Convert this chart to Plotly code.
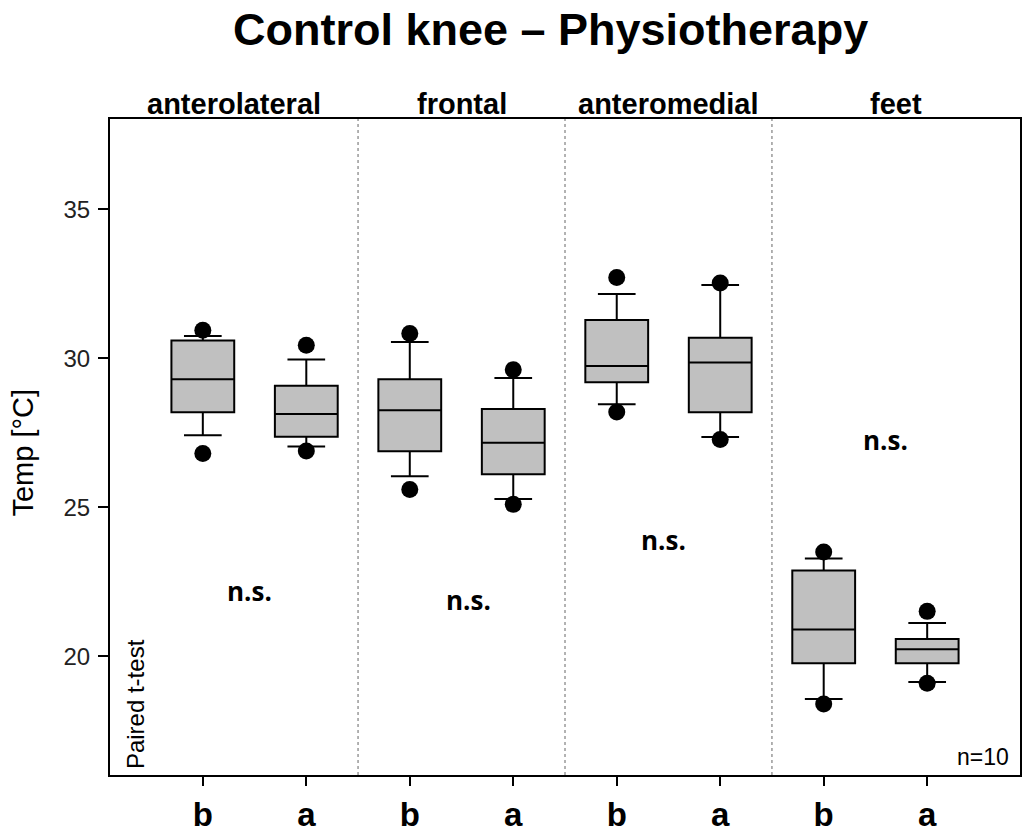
import plotly.graph_objects as go

groups = ["anterolateral", "frontal", "anteromedial", "feet"]
conditions = ["b", "a"]
positions = [1, 2, 3, 4, 5, 6, 7, 8]
tick_labels = ["b", "a", "b", "a", "b", "a", "b", "a"]

p05 = [26.81, 26.89, 25.60, 25.10, 28.20, 27.28, 18.40, 19.10]
p10 = [27.42, 27.04, 26.04, 25.28, 28.46, 27.36, 18.57, 19.14]
q1 = [28.19, 27.37, 26.88, 26.11, 29.20, 28.19, 19.77, 19.77]
median = [29.30, 28.13, 28.26, 27.17, 29.74, 29.86, 20.90, 20.24]
q3 = [30.60, 29.08, 29.30, 28.30, 31.29, 30.69, 22.88, 20.58]
p90 = [30.75, 29.96, 30.55, 29.34, 32.16, 32.46, 23.28, 21.12]
p95 = [30.94, 30.44, 30.83, 29.62, 32.71, 32.53, 23.50, 21.51]

sig_labels = ["n.s.", "n.s.", "n.s.", "n.s."]
sig_x = [1.45, 3.57, 5.45, 7.60]
sig_y = [22.21, 21.88, 23.89, 27.25]
dividers = [2.5, 4.5, 6.5]
panel_edges = [0.103, 2.5, 4.5, 6.5, 8.897]

fig = go.Figure()

fig.add_trace(go.Box(
    x=positions, q1=q1, median=median, q3=q3,
    lowerfence=p10, upperfence=p90,
    width=0.607, whiskerwidth=0.6,
    fillcolor="#c0c0c0", line=dict(color="black", width=2),
    boxpoints=False, showlegend=False, hoverinfo="skip",
))

fig.add_trace(go.Scatter(
    x=positions + positions, y=p05 + p95, mode="markers",
    marker=dict(color="black", size=17, symbol="circle"),
    showlegend=False, hoverinfo="skip",
))

for d in dividers:
    fig.add_shape(type="line", xref="x", yref="paper", x0=d, x1=d, y0=0, y1=1,
                  line=dict(color="#666666", width=1, dash="dot"))

for i, g in enumerate(groups):
    fig.add_annotation(x=(panel_edges[i] + panel_edges[i + 1]) / 2, y=1.0,
                       xref="x", yref="paper", yanchor="bottom", yshift=-3,
                       text="<b>" + g + "</b>", showarrow=False,
                       font=dict(family="Liberation Sans, Arial", size=29, color="black"))

for sx, sy, st in zip(sig_x, sig_y, sig_labels):
    fig.add_annotation(x=sx, y=sy, xref="x", yref="y", text="<b>" + st + "</b>",
                       showarrow=False,
                       font=dict(family="Open Sans", size=26, color="black"))

fig.add_annotation(x=0.4836, y=1.1357, xref="paper", yref="paper",
                   xanchor="center", yanchor="middle",
                   text="<b>Control knee – Physiotherapy</b>", showarrow=False,
                   font=dict(family="Liberation Sans, Arial", size=45, color="black"))

fig.add_annotation(x=-0.096, y=0.491, xref="paper", yref="paper",
                   xanchor="center", yanchor="middle",
                   text="Temp [°C]", textangle=-90, showarrow=False,
                   font=dict(family="Liberation Sans, Arial", size=29, color="black"))

fig.add_annotation(x=0.0274, y=0.108, xref="paper", yref="paper",
                   xanchor="center", yanchor="middle",
                   text="Paired t-test", textangle=-90, showarrow=False,
                   font=dict(family="Liberation Sans, Arial", size=24, color="black"))

fig.add_annotation(x=0.99, y=0.027, xref="paper", yref="paper",
                   xanchor="right", yanchor="middle",
                   text="n=10", showarrow=False,
                   font=dict(family="Liberation Sans, Arial", size=23, color="black"))

fig.update_layout(
    width=1024, height=835,
    margin=dict(l=110, r=2, t=119, b=60),
    paper_bgcolor="white", plot_bgcolor="white",
    xaxis=dict(range=[0.103, 8.897], tickvals=positions,
               ticktext=["<b>" + t + "</b>" for t in tick_labels],
               ticks="outside", ticklen=9, tickwidth=2, tickcolor="black",
               showline=True, linewidth=2, linecolor="black", mirror=True,
               showgrid=False, zeroline=False,
               tickfont=dict(family="Liberation Sans, Arial", size=33, color="black")),
    yaxis=dict(range=[16.02, 38.03], tickvals=[20, 25, 30, 35],
               ticks="outside", ticklen=10, tickwidth=2, tickcolor="black",
               ticklabelstandoff=3,
               showline=True, linewidth=2, linecolor="black", mirror=True,
               showgrid=False, zeroline=False,
               tickfont=dict(family="Liberation Sans, Arial", size=24, color="#222222")),
)

fig.write_html("out.html", config={"displayModeBar": False},
               post_script="document.body.style.margin='0px';")
